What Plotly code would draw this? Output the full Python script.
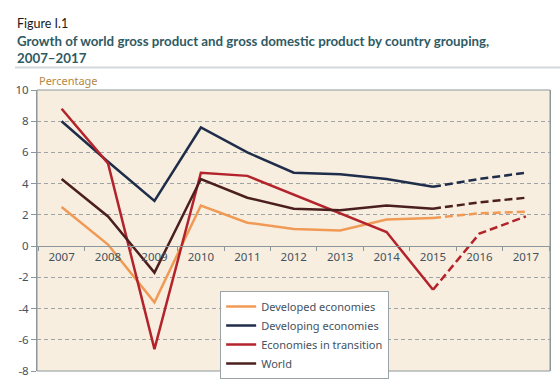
import plotly.graph_objects as go

years = ["2007", "2008", "2009", "2010", "2011", "2012", "2013", "2014", "2015", "2016", "2017"]
developed = [2.5, 0.1, -3.6, 2.6, 1.5, 1.1, 1.0, 1.7, 1.8, 2.1, 2.2]
developing = [8.0, 5.4, 2.9, 7.6, 6.0, 4.7, 4.6, 4.3, 3.8, 4.3, 4.7]
transition = [8.8, 5.3, -6.6, 4.7, 4.5, 3.3, 2.1, 0.9, -2.8, 0.8, 1.9]
world = [4.3, 1.9, -1.7, 4.3, 3.1, 2.4, 2.3, 2.6, 2.4, 2.8, 3.1]
series_names = ["Developed economies", "Developing economies", "Economies in transition", "World"]
y_ticks = [10, 8, 6, 4, 2, 0, -2, -4, -6, -8]
last_actual = 8  # index of 2015; later years are forecasts

colors = ["#f09a55", "#1f2d4a", "#b3232b", "#4b1f1f"]
axis_gray = "#8c979c"
text_col = "#44525e"

fig = go.Figure()
for name, vals, col in zip(series_names, [developed, developing, transition, world], colors):
    fig.add_trace(go.Scatter(
        x=years[:last_actual + 1], y=vals[:last_actual + 1], mode="lines", name=name,
        line=dict(color=col, width=2.5), showlegend=True))
    fig.add_trace(go.Scatter(
        x=years[last_actual:], y=vals[last_actual:], mode="lines", name=name,
        line=dict(color=col, width=2.5, dash="8px,4px"), showlegend=False, hoverinfo="skip"))

plot_h = 389 - 90 - 12

fig.update_layout(
    width=560, height=389,
    margin=dict(l=37, r=10, t=90, b=12),
    paper_bgcolor="white",
    plot_bgcolor="#f8eedf",
    font=dict(family="Noto Sans, sans-serif", size=12, color=text_col),
    xaxis=dict(
        type="category", categoryorder="array", categoryarray=years,
        range=[-0.53, 10.52], anchor="free", position=8 / 18,
        showline=True, linecolor=axis_gray, linewidth=1,
        ticks="outside", tickson="boundaries", ticklen=4, tickcolor=axis_gray,
        showgrid=False, tickfont=dict(size=11.5, color=text_col), fixedrange=True,
    ),
    yaxis=dict(
        range=[-8, 10], tickvals=y_ticks, ticktext=[str(v) for v in y_ticks],
        showgrid=True, gridcolor="#9ea4a6", griddash="4px,3px", gridwidth=1,
        zeroline=False, showline=True, linecolor=axis_gray, mirror=True,
        ticks="outside", ticklen=5, tickcolor=axis_gray,
        tickfont=dict(size=11.5, color=text_col), automargin=False,
    ),
    legend=dict(
        x=0.357, y=0.285, xanchor="left", yanchor="top",
        bgcolor="white", bordercolor="#9aa3a8", borderwidth=1,
        font=dict(size=11, color=text_col), tracegroupgap=0, itemwidth=30,
    ),
    shapes=[
        dict(type="rect", xref="paper", yref="paper", x0=0, x1=1, y0=0, y1=1,
             line=dict(color=axis_gray, width=1), fillcolor="rgba(0,0,0,0)", layer="above"),
        dict(type="line", xref="paper", yref="paper", x0=-22 / 513, x1=523 / 513,
             y0=1 + 23 / plot_h, y1=1 + 23 / plot_h, line=dict(color="#d3d8da", width=2)),
    ],
    annotations=[
        dict(text="Figure I.1", xref="paper", yref="paper", x=-22 / 513, y=1 + 68 / plot_h,
             xanchor="left", yanchor="middle", showarrow=False,
             font=dict(family="Lato, sans-serif", size=12.5, color="#1a1a1a")),
        dict(text="<b>Growth of world gross product and gross domestic product by country grouping,</b><br><b>2007–2017</b>",
             xref="paper", yref="paper", x=-22 / 513, y=1 + 41.5 / plot_h, align="left",
             xanchor="left", yanchor="middle", showarrow=False,
             font=dict(family="Lato, sans-serif", size=13.3, color="#2f5a63")),
        dict(text="Percentage", xref="paper", yref="paper", x=0, y=1 + 10 / plot_h,
             xanchor="left", yanchor="middle", showarrow=False,
             font=dict(size=11, color="#b5873f")),
    ],
)

fig.write_html("out.html", config={"displayModeBar": False},
               post_script="document.body.style.margin='0px';")
